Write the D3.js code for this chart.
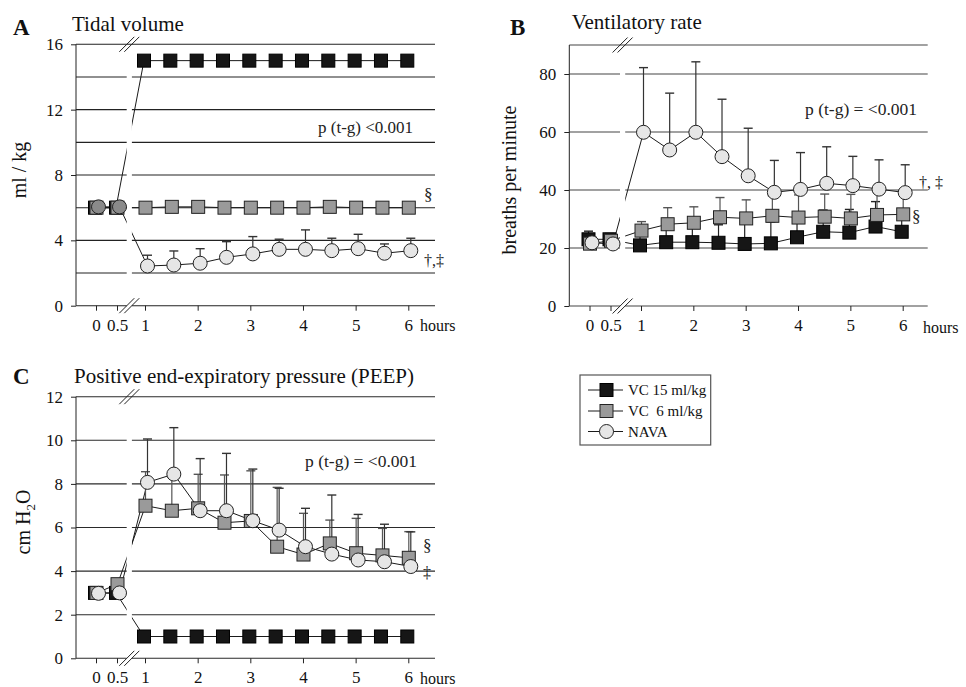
<!DOCTYPE html>
<html><head><meta charset="utf-8">
<script src="https://cdn.jsdelivr.net/npm/d3@7"></script>
<style>
body{margin:0;background:#fff}
svg{display:block}
text{font-family:"Liberation Serif","Times New Roman",serif;fill:#111}
</style>
</head><body>
<svg id="chart" width="966" height="687"></svg>
<script>
// ---------------- DATA ----------------
const times = [0, 0.5, 1, 1.5, 2, 2.5, 3, 3.5, 4, 4.5, 5, 5.5, 6];
const xTickValues = [0, 0.5, 1, 2, 3, 4, 5, 6];
const seriesNames = ["VC 15 ml/kg", "VC  6 ml/kg", "NAVA"];

// A: Tidal volume (ml/kg)
const tvTicks = [0, 4, 8, 12, 16];
const tvGrid = [2, 4, 6, 8, 10, 12, 14];
const tvVC15 = [6.0, 6.0, 15, 15, 15, 15, 15, 15, 15, 15, 15, 15, 15];
const tvVC6 = [6.0, 6.0, 6.0, 6.05, 6.05, 6.0, 6.0, 6.0, 6.0, 6.05, 6.0, 6.0, 6.0];
const tvNAVA = [6.05, 6.05, 2.43, 2.49, 2.6, 2.96, 3.17, 3.45, 3.45, 3.37, 3.49, 3.21, 3.37];
const tvVC15sd = [0, 0, 0, 0, 0, 0, 0, 0, 0, 0, 0, 0, 0];
const tvVC6sd = [0, 0, 0, 0, 0, 0, 0, 0, 0, 0, 0, 0, 0];
const tvNAVAsd = [0, 0, 0.66, 0.86, 0.89, 0.96, 1.06, 0.62, 1.19, 0.76, 0.88, 0.57, 0.76];

// B: Ventilatory rate (breaths per minute)
const rrTicks = [0, 20, 40, 60, 80];
const rrGrid = [20, 40, 60, 80];
const rrVC15 = [23.0, 23.0, 20.9, 22.0, 22.0, 21.8, 21.4, 21.6, 23.7, 25.6, 25.3, 27.4, 25.6];
const rrVC6 = [21.5, 22.5, 26.0, 28.2, 28.7, 30.6, 30.2, 31.1, 30.5, 30.8, 30.2, 31.4, 31.6];
const rrNAVA = [21.8, 21.4, 59.9, 53.8, 59.9, 51.5, 44.9, 39.2, 40.2, 42.3, 41.5, 40.3, 39.1];
const rrVC15sd = [2.8, 2.0, 3.1, 5.0, 5.5, 6.2, 7.1, 7.4, 5.9, 7.5, 8.0, 8.6, 6.4];
const rrVC6sd = [1.5, 1.5, 3.1, 5.7, 5.5, 6.8, 6.4, 6.9, 7.8, 7.8, 8.3, 8.0, 8.1];
const rrNAVAsd = [0, 0, 22.3, 19.6, 24.3, 19.8, 16.4, 11.0, 12.7, 12.6, 10.1, 10.1, 9.6];

// C: PEEP (cm H2O)
const peepTicks = [0, 2, 4, 6, 8, 10, 12];
const peepGrid = [2, 4, 6, 8, 10];
const peepVC15 = [3.0, 3.0, 1, 1, 1, 1, 1, 1, 1, 1, 1, 1, 1];
const peepVC6 = [3.0, 3.4, 7.0, 6.77, 6.88, 6.22, 6.3, 5.12, 4.76, 5.27, 4.82, 4.72, 4.61];
const peepNAVA = [2.98, 3.0, 8.07, 8.45, 6.77, 6.77, 6.31, 5.88, 5.12, 4.78, 4.51, 4.43, 4.21];
const peepVC15sd = [0, 0, 0, 0, 0, 0, 0, 0, 0, 0, 0, 0, 0];
const peepVC6sd = [0, 0, 1.56, 1.53, 1.56, 2.19, 2.3, 2.72, 1.89, 1.07, 1.6, 1.24, 1.2];
const peepNAVAsd = [0, 0, 1.99, 2.13, 2.39, 2.63, 2.37, 1.92, 1.76, 2.71, 2.09, 1.72, 1.59];

// ---------------- LAYOUT / STYLE ----------------
const svg = d3.select("#chart");
const FONT = '"Liberation Serif","Times New Roman",serif';
const seriesStyle = [
  {shape: "square", fill: "#161616", stroke: "#000", err: "#222", off: -1},
  {shape: "square", fill: "#9a9a9a", stroke: "#222", err: "#555", off: 0.5},
  {shape: "circle", fill: "#e6e6e6", stroke: "#222", err: "#333", off: 2.5}
];

const panels = [
  {letter: "A", title: "Tidal volume", ylab: ["ml / kg"], left: 76, right: 435, top: 44.3, bottom: 305.7,
   xr: [96, 117, 145, 408.3], yDomain: [0, 16], ticks: tvTicks, grid: tvGrid,
   data: [tvVC15, tvVC6, tvNAVA], sd: [tvVC15sd, tvVC6sd, tvNAVAsd],
   baseFill: "#8a8a8a", gridColor: "#222",
   letterPos: [13, 35], titlePos: [72, 31], ylabPos: [26, 170],
   hoursPos: [420, 331],
   notes: [["p (t-g) <0.001", 318, 132.5, 17], ["§", 424, 200, 17], ["†,‡", 424, 266, 16]]},
  {letter: "B", title: "Ventilatory rate", ylab: ["breaths per minute"], left: 569.3, right: 927.7, top: 45, bottom: 306,
   xr: [589.5, 610.5, 641, 902.7], yDomain: [0, 90], ticks: rrTicks, grid: rrGrid,
   data: [rrVC15, rrVC6, rrNAVA], sd: [rrVC15sd, rrVC6sd, rrNAVAsd],
   gridColor: "#444",
   letterPos: [510, 35], titlePos: [571.7, 29], ylabPos: [516, 180],
   hoursPos: [923, 333],
   notes: [["p (t-g) = <0.001", 805, 115, 17.5], ["†, ‡", 919, 188, 16], ["§", 912, 221.5, 17]]},
  {letter: "C", title: "Positive end-expiratory pressure (PEEP)", ylab: ["cm H", "2", "O"], left: 76, right: 435, top: 396.7, bottom: 658.3,
   xr: [96, 117, 145, 408.3], yDomain: [0, 12], ticks: peepTicks, grid: peepGrid,
   data: [peepVC15, peepVC6, peepNAVA], sd: [peepVC15sd, peepVC6sd, peepNAVAsd],
   gridColor: "#2a2a2a",
   letterPos: [13, 384], titlePos: [74, 383], ylabPos: [30, 522],
   hoursPos: [420, 684],
   notes: [["p (t-g) = <0.001", 305, 466.7, 17.5], ["§", 423, 550.5, 17], ["‡", 423, 578, 16]]}
];

panels.forEach(p => {
  const g = svg.append("g");
  const x = d3.scaleLinear().domain([0, 0.5, 1, 6]).range(p.xr);
  const y = d3.scaleLinear().domain(p.yDomain).range([p.bottom, p.top]);
  const bc = p.left + 53.3;

  // gridlines (broken) + top line + baseline
  g.selectAll("line.grid").data(p.grid.concat([p.yDomain[0]])).join("line")
    .attr("x1", p.left).attr("x2", p.right)
    .attr("y1", d => y(d)).attr("y2", d => y(d))
    .attr("stroke", p.gridColor).attr("stroke-width", 1.1);
  g.append("line").attr("x1", p.left).attr("x2", p.right)
    .attr("y1", y(p.yDomain[1])).attr("y2", y(p.yDomain[1]))
    .attr("stroke", p.gridColor).attr("stroke-width", 1.1);

  // y axis
  g.append("g").attr("transform", `translate(${p.left},0)`)
    .call(d3.axisLeft(y).tickValues(p.ticks).tickSize(5).tickSizeOuter(0).tickPadding(8))
    .call(a => a.select(".domain").attr("stroke", "#222").attr("d", `M0,${p.top}V${p.bottom}`))
    .call(a => a.selectAll(".tick line").attr("stroke", "#222"))
    .call(a => a.selectAll("text").attr("font-family", FONT).attr("font-size", 17).attr("fill", "#111"));

  // x axis
  g.append("g").attr("transform", `translate(0,${p.bottom})`)
    .call(d3.axisBottom(x).tickValues(xTickValues).tickFormat(d => String(d)).tickSize(5).tickPadding(8))
    .call(a => a.select(".domain").remove())
    .call(a => a.selectAll(".tick line").attr("stroke", "#222"))
    .call(a => a.selectAll("text").attr("font-family", FONT).attr("font-size", 17).attr("fill", "#111"));

  // series lines
  p.data.forEach((vals, si) => {
    const st = seriesStyle[si];
    g.append("path").datum(vals)
      .attr("d", d3.line().x((d, i) => x(times[i]) + st.off).y(d => y(d)))
      .attr("fill", "none").attr("stroke", "#1a1a1a").attr("stroke-width", 1);
  });

  // break gap
  g.append("rect").attr("x", bc - 2.6).attr("width", 5.2)
    .attr("y", p.top + 1).attr("height", p.bottom - p.top + 1).attr("fill", "#fff");
  [p.top, p.bottom].forEach(yy => {
    [-2.5, 2.5].forEach(o => {
      g.append("line").attr("x1", bc + o - 7.5).attr("y1", yy + 7.5)
        .attr("x2", bc + o + 7.5).attr("y2", yy - 7.5)
        .attr("stroke", "#222").attr("stroke-width", 1);
    });
  });

  // error bars + markers per series
  p.data.forEach((vals, si) => {
    const st = seriesStyle[si];
    const sd = p.sd[si];
    const eg = g.append("g");
    vals.forEach((v, i) => {
      if (!sd[i]) return;
      const cx = x(times[i]) + st.off;
      eg.append("line").attr("x1", cx).attr("x2", cx).attr("y1", y(v)).attr("y2", y(v + sd[i]))
        .attr("stroke", st.err).attr("stroke-width", 1.2);
      eg.append("line").attr("x1", cx - 4.5).attr("x2", cx + 4.5).attr("y1", y(v + sd[i])).attr("y2", y(v + sd[i]))
        .attr("stroke", st.err).attr("stroke-width", 1.4);
    });
  });
  p.data.forEach((vals, si) => {
    const st = seriesStyle[si];
    const mg = g.append("g");
    vals.forEach((v, i) => {
      const cx = x(times[i]) + st.off, cy = y(v);
      const fill = (st.shape === "circle" && i < 2 && p.baseFill) ? p.baseFill : st.fill;
      if (st.shape === "square") {
        mg.append("rect").attr("x", cx - 6.5).attr("y", cy - 6.5).attr("width", 13).attr("height", 13)
          .attr("fill", fill).attr("stroke", st.stroke).attr("stroke-width", 1);
      } else {
        mg.append("circle").attr("cx", cx).attr("cy", cy).attr("r", 7)
          .attr("fill", fill).attr("stroke", st.stroke).attr("stroke-width", 1);
      }
    });
  });

  // texts
  g.append("text").attr("x", p.letterPos[0]).attr("y", p.letterPos[1])
    .attr("font-size", 23).attr("font-weight", "bold").text(p.letter);
  g.append("text").attr("x", p.titlePos[0]).attr("y", p.titlePos[1])
    .attr("font-size", 21).text(p.title);
  const yl = g.append("text").attr("transform", `translate(${p.ylabPos[0]},${p.ylabPos[1]}) rotate(-90)`)
    .attr("text-anchor", "middle").attr("font-size", 20);
  if (p.ylab.length === 1) yl.text(p.ylab[0]);
  else {
    yl.append("tspan").text(p.ylab[0]);
    yl.append("tspan").attr("font-size", 13).attr("dy", 5).text(p.ylab[1]);
    yl.append("tspan").attr("dy", -5).text(p.ylab[2]);
  }
  g.append("text").attr("x", p.hoursPos[0]).attr("y", p.hoursPos[1]).attr("font-size", 16).text("hours");
  p.notes.forEach(n => {
    g.append("text").attr("x", n[1]).attr("y", n[2]).attr("font-size", n[3])
      .attr("font-family", "Liberation Serif").style("fill", "#222").text(n[0]);
  });
});

// legend
const lg = svg.append("g");
lg.append("rect").attr("x", 580).attr("y", 375).attr("width", 130.7).attr("height", 70)
  .attr("fill", "#fff").attr("stroke", "#555").attr("stroke-width", 1.2);
const rowsY = [390, 411, 431.5];
seriesNames.forEach((name, si) => {
  const st = seriesStyle[si];
  const yy = rowsY[si];
  lg.append("line").attr("x1", 588).attr("x2", 623).attr("y1", yy).attr("y2", yy)
    .attr("stroke", "#1a1a1a").attr("stroke-width", 1);
  if (st.shape === "square") {
    lg.append("rect").attr("x", 606.5 - 6.5).attr("y", yy - 6.5).attr("width", 13).attr("height", 13)
      .attr("fill", st.fill).attr("stroke", st.stroke);
  } else {
    lg.append("circle").attr("cx", 606.5).attr("cy", yy).attr("r", 7)
      .attr("fill", st.fill).attr("stroke", st.stroke);
  }
  lg.append("text").attr("x", 628).attr("y", yy + 5).attr("font-size", 15)
    .attr("xml:space", "preserve").style("white-space", "pre").text(name);
});
</script>
</body></html>
